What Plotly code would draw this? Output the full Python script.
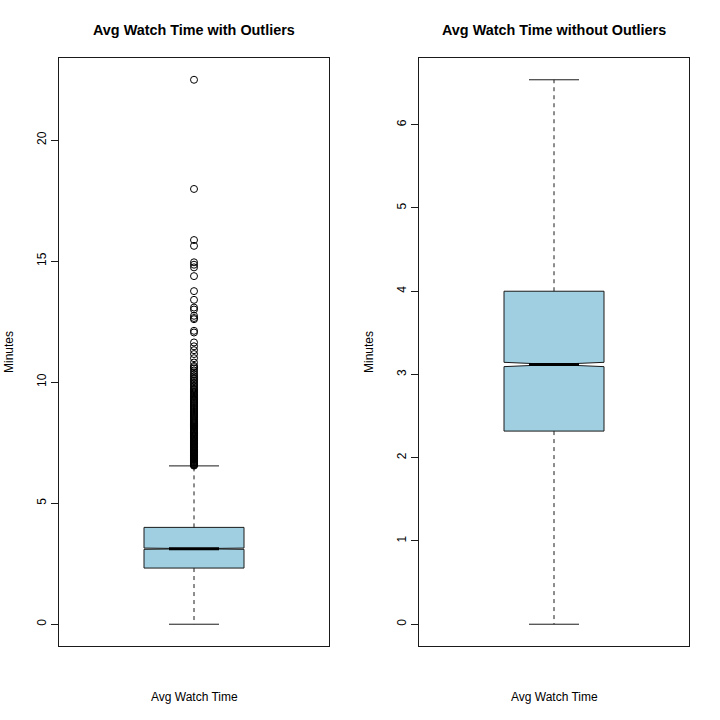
import plotly.graph_objects as go

# ---- data (minutes) ----
q1 = 2.32
median = 3.12
q3 = 4.00
lower_whisker = 0.0
upper_whisker = 6.54
notch_half = 0.026
outliers = [
    6.55, 6.57, 6.59, 6.61, 6.63, 6.66, 6.68, 6.7, 6.73, 6.75, 6.78, 6.8, 6.83,
    6.85, 6.88, 6.91, 6.93, 6.96, 6.99, 7.02, 7.05, 7.08, 7.11, 7.14, 7.17, 7.2,
    7.23, 7.26, 7.29, 7.32, 7.35, 7.38, 7.42, 7.45, 7.48, 7.51, 7.55, 7.58, 7.61,
    7.65, 7.68, 7.72, 7.75, 7.79, 7.82, 7.86, 7.89, 7.93, 7.96, 8.0, 8.04, 8.07,
    8.11, 8.15, 8.18, 8.22, 8.26, 8.3, 8.33, 8.37, 8.41, 8.45, 8.49, 8.53, 8.57,
    8.61, 8.65, 8.69, 8.73, 8.77, 8.81, 8.85, 8.89, 8.93, 8.97, 9.01, 9.05, 9.1,
    9.14, 9.18, 9.22, 9.27, 9.31, 9.35, 9.4, 9.44, 9.49, 9.53, 9.58, 9.62, 9.67,
    9.71, 9.76, 9.82, 9.88, 9.94, 10.0, 10.06, 10.12, 10.18, 10.25, 10.32, 10.4,
    10.48, 10.56, 10.62, 10.67, 10.81, 10.99, 11.16, 11.32, 11.48, 11.64, 12.05,
    12.12, 12.6, 12.65, 12.74, 13.0, 13.08, 13.4, 13.76, 14.38, 14.74, 14.85,
    14.95, 15.63, 15.87, 17.98, 22.49,
]
titles = ["Avg Watch Time with Outliers", "Avg Watch Time without Outliers"]
xlabel = "Avg Watch Time"
ylabel = "Minutes"
left_ticks = [0, 5, 10, 15, 20]
right_ticks = [0, 1, 2, 3, 4, 5, 6]

FILL = "#9FCFE0"
LINE = "#1a1a1a"
FONT = "Liberation Sans, Arial, Helvetica, sans-serif"
POS = 1.0
BOX_W = 0.4
STAPLE = 0.1

fig = go.Figure()


def add_box(xa, ya):
    fig.add_trace(go.Box(
        x=[POS], q1=[q1], median=[median], q3=[q3],
        lowerfence=[q1], upperfence=[q3],
        notched=True, notchspan=[notch_half], notchwidth=0.5,
        width=BOX_W, whiskerwidth=0, boxpoints=False,
        fillcolor=FILL, line=dict(color=LINE, width=1),
        xaxis=xa, yaxis=ya, showlegend=False, hoverinfo="skip"))
    dash = dict(color=LINE, width=1, dash="4px,4px")
    solid = dict(color=LINE, width=1)
    fig.add_trace(go.Scatter(x=[POS, POS], y=[q3, upper_whisker], mode="lines",
                             line=dash, xaxis=xa, yaxis=ya, showlegend=False))
    fig.add_trace(go.Scatter(x=[POS, POS], y=[q1, lower_whisker], mode="lines",
                             line=dash, xaxis=xa, yaxis=ya, showlegend=False))
    for v in (upper_whisker, lower_whisker):
        fig.add_trace(go.Scatter(x=[POS - STAPLE, POS + STAPLE], y=[v, v],
                                 mode="lines", line=solid, xaxis=xa, yaxis=ya,
                                 showlegend=False))
    fig.add_trace(go.Scatter(x=[POS - STAPLE, POS + STAPLE], y=[median, median],
                             mode="lines", line=dict(color="black", width=3),
                             xaxis=xa, yaxis=ya, showlegend=False))


add_box("x", "y")
fig.add_trace(go.Scatter(x=[POS] * len(outliers), y=outliers, mode="markers",
                         marker=dict(symbol="circle-open", size=7, color="black",
                                     line=dict(width=1, color="black")),
                         xaxis="x", yaxis="y", showlegend=False))
add_box("x2", "y2")

W = 720.0


def px(v):
    return v / W


def py(v):
    return 1 - v / W


dl = [px(59), px(329)]
dr = [px(419), px(689)]
dy = [py(646), py(58)]

left_max = max(outliers + [upper_whisker])
pad_l = 0.04 * left_max
pad_r = 0.04 * upper_whisker

axis_common = dict(showline=True, mirror=True, linecolor=LINE, linewidth=1,
                   showgrid=False, zeroline=False)
ycommon = dict(axis_common, ticks="outside", ticklen=7, tickcolor=LINE,
               tickangle=-90, tickfont=dict(family=FONT, size=12, color="black"))

fig.update_layout(
    width=720, height=720,
    margin=dict(l=0, r=0, t=0, b=0),
    paper_bgcolor="white", plot_bgcolor="white",
    xaxis=dict(axis_common, domain=dl, range=[0.46, 1.54], showticklabels=False,
               ticks=""),
    yaxis=dict(ycommon, domain=dy, range=[-pad_l, left_max + pad_l],
               tickvals=left_ticks, ticktext=[str(t) for t in left_ticks]),
    xaxis2=dict(axis_common, domain=dr, range=[0.46, 1.54], showticklabels=False,
                ticks=""),
    yaxis2=dict(ycommon, domain=dy, range=[-pad_r, upper_whisker + pad_r],
                tickvals=right_ticks, ticktext=[str(t) for t in right_ticks],
                anchor="x2"),
)

ann = []
for d, t in zip([dl, dr], titles):
    cx = (d[0] + d[1]) / 2
    ann.append(dict(text="<b>%s</b>" % t, x=cx, y=py(30), xref="paper",
                    yref="paper", showarrow=False, xanchor="center",
                    yanchor="middle", font=dict(family=FONT, size=14.4, color="black")))
    ann.append(dict(text=xlabel, x=cx, y=py(697), xref="paper", yref="paper",
                    showarrow=False, xanchor="center", yanchor="middle",
                    font=dict(family=FONT, size=12, color="black")))
    ann.append(dict(text=ylabel, x=d[0] - 50 / W, y=(dy[0] + dy[1]) / 2,
                    xref="paper", yref="paper", showarrow=False, textangle=-90,
                    xanchor="center", yanchor="middle",
                    font=dict(family=FONT, size=12, color="black")))
fig.update_layout(annotations=ann)

fig.write_html(
    "out.html",
    config={"displayModeBar": False},
    post_script="document.body.style.margin='0';document.body.style.overflow='hidden';",
)
